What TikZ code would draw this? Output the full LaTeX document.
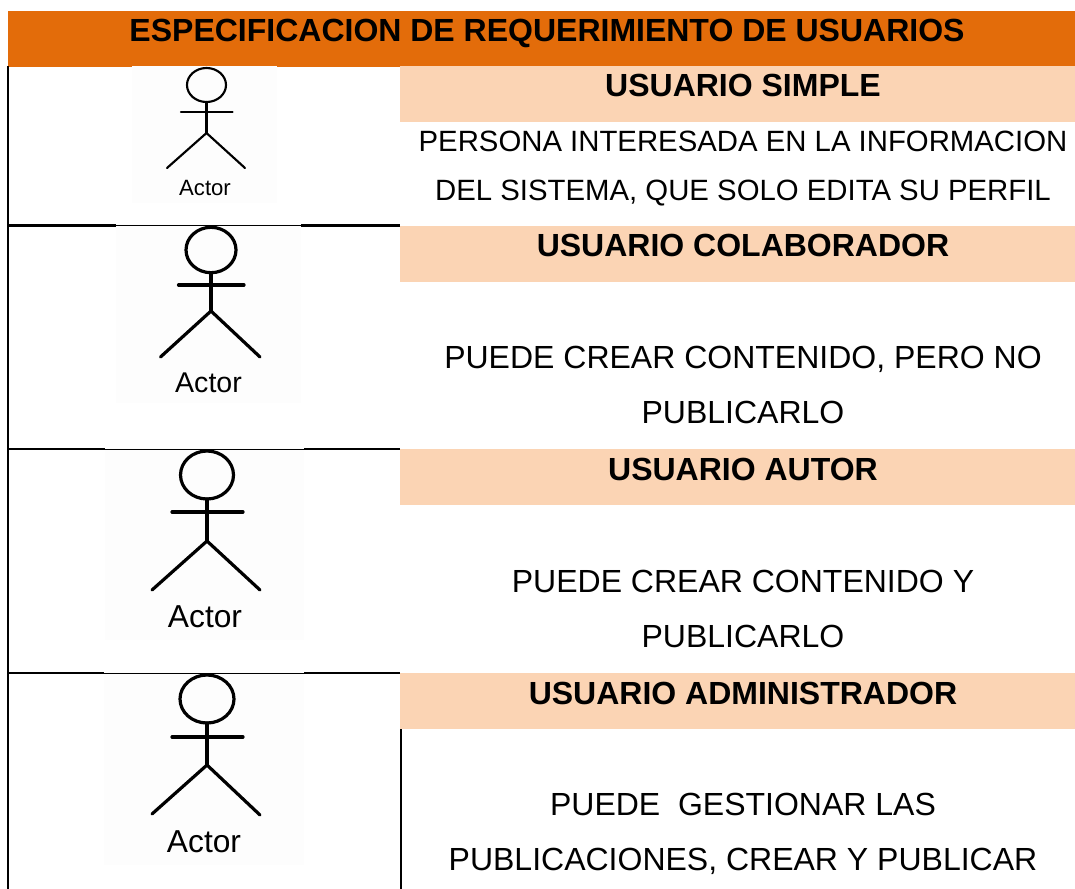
\documentclass[tikz,border=0pt]{standalone}
\usepackage{fontspec}
\setmainfont{Liberation Sans}
\definecolor{hdr}{HTML}{E36C0A}
\definecolor{band}{HTML}{FBD4B4}
\definecolor{patch}{HTML}{FDFDFD}
\tikzset{
  rule/.style={black,line width=1.7pt},
  thinrule/.style={black,line width=1.2pt},
  limb/.style={black,line cap=round,line join=round},
  txt/.style={anchor=base,inner sep=0pt,font=\fontsize{24pt}{28pt}\selectfont},
  txtsmall/.style={anchor=base,inner sep=0pt,font=\fontsize{22pt}{26pt}\selectfont},
  head/.style={anchor=base,inner sep=0pt,font=\fontsize{24pt}{28pt}\selectfont\bfseries},
}
% #1 name, #2 cx, #3 head cy, #4 rx, #5 ry, #6 arm y, #7 arm left, #8 arm right, #9 hip y
\newcommand{\actorfig}[9]{%
  \coordinate (#1h) at (#2,#3);
  \draw[limb] (#1h) ellipse [x radius=#4,y radius=#5];
  \coordinate (#1n) at (#2,#3+#5);
  \coordinate (#1hip) at (#2,#9);
  \coordinate (#1al) at (#7,#6);
  \coordinate (#1ar) at (#8,#6);
  \draw[limb] (#1n) -- (#1hip);
  \draw[limb] (#1al) -- (#1ar);
}
\begin{document}
\begin{tikzpicture}[x=0.75pt,y=-0.75pt]
\useasboundingbox (0,0) rectangle (1075,889);
\fill[white] (0,0) rectangle (1075,889);
% header and bands
\fill[hdr] (8,11) rectangle (1075,67);
\foreach \t/\b in {66/122,226/282,449/505,673/729}
  \fill[band] (400,\t) rectangle (1075,\b);
% table rules
\coordinate (lt) at (8,66);
\coordinate (lb) at (8,889);
\draw[rule] (lt) -- (lb);
\coordinate (rt) at (401,729);
\coordinate (rb) at (401,889);
\draw[thinrule] (rt) -- (rb);
\foreach \y in {225.5,449,673}{
  \draw[rule] (8,\y) -- (400,\y);
}
% picture patches
\fill[patch] (132,66) rectangle (277,203);
\fill[patch] (116,224) rectangle (301,403);
\fill[patch] (105,447.5) rectangle (304,640);
\fill[patch] (104,671.5) rectangle (304,865);
\draw[black,line width=0.7pt] (116,225.5) -- (301,225.5);
\draw[black,line width=0.7pt] (105,449) -- (304,449);
\draw[black,line width=0.7pt] (104,673) -- (304,673);
% actors
\begin{scope}[line width=1.6pt]
\actorfig{a}{206.5}{85}{19.5}{17}{112}{181}{232.5}{133}
\coordinate (all) at (167,168); \coordinate (alr) at (245,168);
\draw[limb] (all) -- (ahip) -- (alr);
\end{scope}
\begin{scope}[line width=2.4pt]
\actorfig{b}{211}{250}{25}{22.7}{285}{178.5}{244}{311}
\coordinate (bll) at (160.5,357); \coordinate (blr) at (260,357);
\draw[limb] (bll) -- (bhip) -- (blr);
\actorfig{c}{207}{475}{26.5}{24}{512}{172}{243}{541}
\coordinate (cll) at (152,590); \coordinate (clr) at (260,590);
\draw[limb] (cll) -- (chip) -- (clr);
\actorfig{d}{207}{699}{27}{24}{737}{172}{243}{765}
\coordinate (dll) at (152,814); \coordinate (dlr) at (260,815);
\draw[limb] (dll) -- (dhip) -- (dlr);
\end{scope}
\node[anchor=base,inner sep=0pt,font=\fontsize{16.6pt}{20pt}\selectfont] (la) at (205,195) {Actor};
\node[anchor=base,inner sep=0pt,font=\fontsize{21.4pt}{25pt}\selectfont] (lb2) at (208.5,392) {Actor};
\node[anchor=base,inner sep=0pt,font=\fontsize{23.8pt}{28pt}\selectfont] (lc) at (205,627) {Actor};
\node[anchor=base,inner sep=0pt,font=\fontsize{23.8pt}{28pt}\selectfont] (ld) at (204,852) {Actor};
% texts
\node[head] (title) at (547,41) {ESPECIFICACION DE REQUERIMIENTO DE USUARIOS};
\node[head] (h1) at (743,96) {USUARIO SIMPLE};
\node[head] (h2) at (743,256) {USUARIO COLABORADOR};
\node[head] (h3) at (743,480) {USUARIO AUTOR};
\node[head] (h4) at (743,704) {USUARIO ADMINISTRADOR};
\node[txtsmall] (t1a) at (743,151) {PERSONA INTERESADA EN LA INFORMACION};
\node[txtsmall] (t1b) at (743,200) {DEL SISTEMA, QUE SOLO EDITA SU PERFIL};
\node[txt] (t2a) at (743,368) {PUEDE CREAR CONTENIDO, PERO NO};
\node[txt] (t2b) at (743,423) {PUBLICARLO};
\node[txt] (t3a) at (743,592) {PUEDE CREAR CONTENIDO Y};
\node[txt] (t3b) at (743,647) {PUBLICARLO};
\node[txt] (t4a) at (743,815) {PUEDE\ \ GESTIONAR LAS};
\node[txt] (t4b) at (743,870) {PUBLICACIONES, CREAR Y PUBLICAR};
\end{tikzpicture}
\end{document}
